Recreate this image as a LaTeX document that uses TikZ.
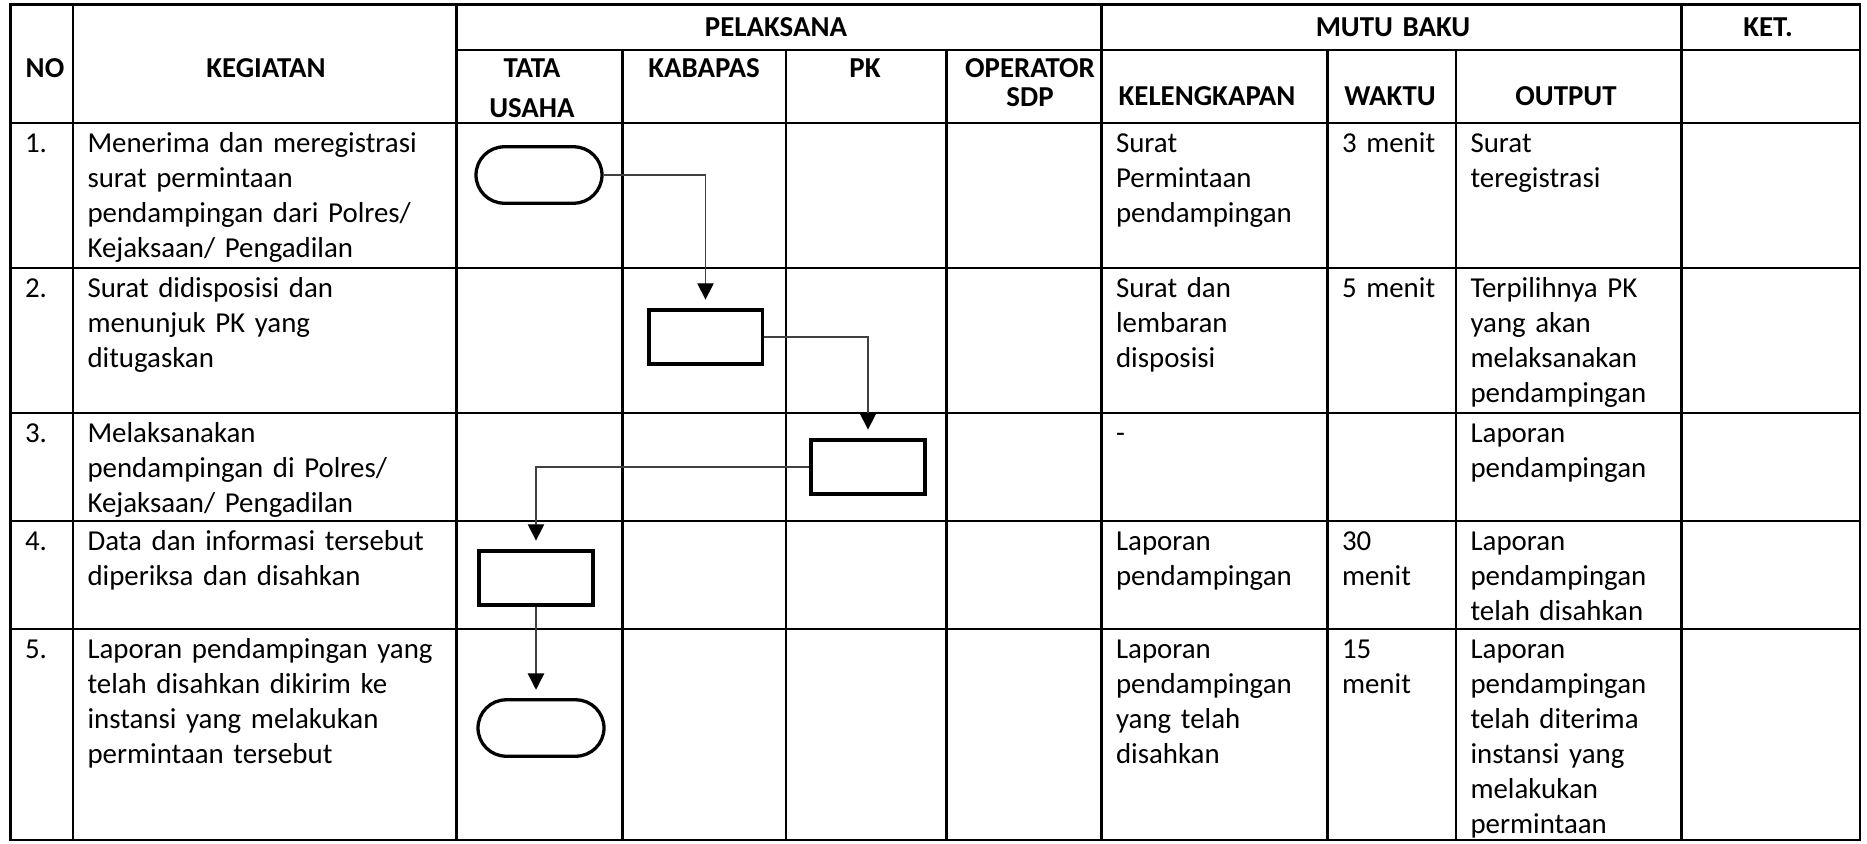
\documentclass[tikz,border=0pt]{standalone}
\usepackage{fontspec}
\setmainfont{Carlito}
\usetikzlibrary{arrows.meta,shapes.misc}

\begin{document}
\begin{tikzpicture}[x=0.381pt,y=-0.381pt,
    tabline/.style={line width=0.85pt},
    term/.style={rounded rectangle,draw,line width=1.25pt,minimum width=48pt,minimum height=21.5pt,inner sep=0pt},
    proc/.style={rectangle,draw,line width=1.5pt,minimum width=43.4pt,minimum height=20.6pt,inner sep=0pt},
    flow/.style={draw=black!75,line width=0.5pt,-{Triangle[length=6.2pt,width=6.2pt,color=black]},shorten >=3.2pt},
    cell/.style={anchor=base west,inner sep=0pt,align=left,text width=#1,font=\fontsize{11}{13.4}\selectfont},
    cell/.default=80pt,
    head/.style={anchor=base,inner sep=0pt,align=center,text width=#1,font=\fontsize{11}{13.4}\selectfont\bfseries},
    head/.default=52pt]
    \useasboundingbox (0,0) rectangle (1867,843);

    % table lines
    \draw[tabline] (10.5,4.5) rectangle (1860,840);
    \foreach \x in {73,456.5,1101.5,1681.5} \draw[tabline] (\x,4.5) -- (\x,840);
    \foreach \x in {622.5,786,946.5,1327.5,1456} \draw[tabline] (\x,50) -- (\x,840);
    \draw[tabline] (456.5,50) -- (1860,50);
    \foreach \y in {123,268,413,521,629} \draw[tabline] (10.5,\y) -- (1860,\y);

    % header
    \node[head=20pt] (hno) at (45,77) {NO};
    \node[head=80pt] (hkeg) at (266,77) {KEGIATAN};
    \node[head=80pt] (hpel) at (776,37) {PELAKSANA};
    \node[head=80pt] (hmutu) at (1393,37) {MUTU BAKU};
    \node[head] (hket) at (1768,37) {KET.};
    \node[head] (htu) at (532,77) {TATA\\[1.9pt]USAHA};
    \node[head] (hkab) at (704,77) {KABAPAS};
    \node[head=30pt] (hpk) at (865,77) {PK};
    \node[head] (hop) at (1030,77) {OPERATOR\\[-2pt]SDP};
    \node[head=75pt] (hkel) at (1207,105) {KELENGKAPAN};
    \node[head=45pt] (hwkt) at (1390,105) {WAKTU};
    \node[head] (hout) at (1566,105) {OUTPUT};

    % rows
    \node[cell=15pt] (no1) at (24.5,152) {1.};
    \node[cell=140pt] (keg1) at (87,152) {Menerima dan meregistrasi\\surat permintaan\\pendampingan dari Polres/\\Kejaksaan/ Pengadilan};
    \node[cell] (kel1) at (1115.5,152) {Surat\\Permintaan\\pendampingan};
    \node[cell=40pt] (wkt1) at (1341.5,152) {3 menit};
    \node[cell] (out1) at (1470,152) {Surat\\teregistrasi};

    \node[cell=15pt] (no2) at (24.5,297) {2.};
    \node[cell=140pt] (keg2) at (87,297) {Surat didisposisi dan\\menunjuk PK yang\\ditugaskan};
    \node[cell] (kel2) at (1115.5,297) {Surat dan\\lembaran\\disposisi};
    \node[cell=40pt] (wkt2) at (1341.5,297) {5 menit};
    \node[cell] (out2) at (1470,297) {Terpilihnya PK\\yang akan\\melaksanakan\\pendampingan};

    \node[cell=15pt] (no3) at (24.5,442) {3.};
    \node[cell=140pt] (keg3) at (87,442) {Melaksanakan\\pendampingan di Polres/\\Kejaksaan/ Pengadilan};
    \node[cell] (kel3) at (1115.5,442) {-};
    \node[cell] (out3) at (1470,442) {Laporan\\pendampingan};

    \node[cell=15pt] (no4) at (24.5,550) {4.};
    \node[cell=140pt] (keg4) at (87,550) {Data dan informasi tersebut\\diperiksa dan disahkan};
    \node[cell] (kel4) at (1115.5,550) {Laporan\\pendampingan};
    \node[cell=40pt] (wkt4) at (1341.5,550) {30\\menit};
    \node[cell] (out4) at (1470,550) {Laporan\\pendampingan\\telah disahkan};

    \node[cell=15pt] (no5) at (24.5,658) {5.};
    \node[cell=140pt] (keg5) at (87,658) {Laporan pendampingan yang\\telah disahkan dikirim ke\\instansi yang melakukan\\permintaan tersebut};
    \node[cell] (kel5) at (1115.5,658) {Laporan\\pendampingan\\yang telah\\disahkan};
    \node[cell=40pt] (wkt5) at (1341.5,658) {15\\menit};
    \node[cell] (out5) at (1470,658) {Laporan\\pendampingan\\telah diterima\\instansi yang\\melakukan\\permintaan};

    % flow
    \node[term] (t1) at (539,175) {};
    \node[proc] (p2) at (705.5,337) {};
    \node[proc] (p3) at (868,467) {};
    \node[proc] (p4) at (536,578) {};
    \node[term] (t5) at (541,728) {};

    \draw[flow] (t1.east) -| (p2.north);
    \draw[flow] (p2.east) -| (p3.north);
    \draw[flow] (p3.west) -| (p4.north);
    \draw[flow] (p4.south) -- (p4.south |- t5.north);
\end{tikzpicture}
\end{document}
